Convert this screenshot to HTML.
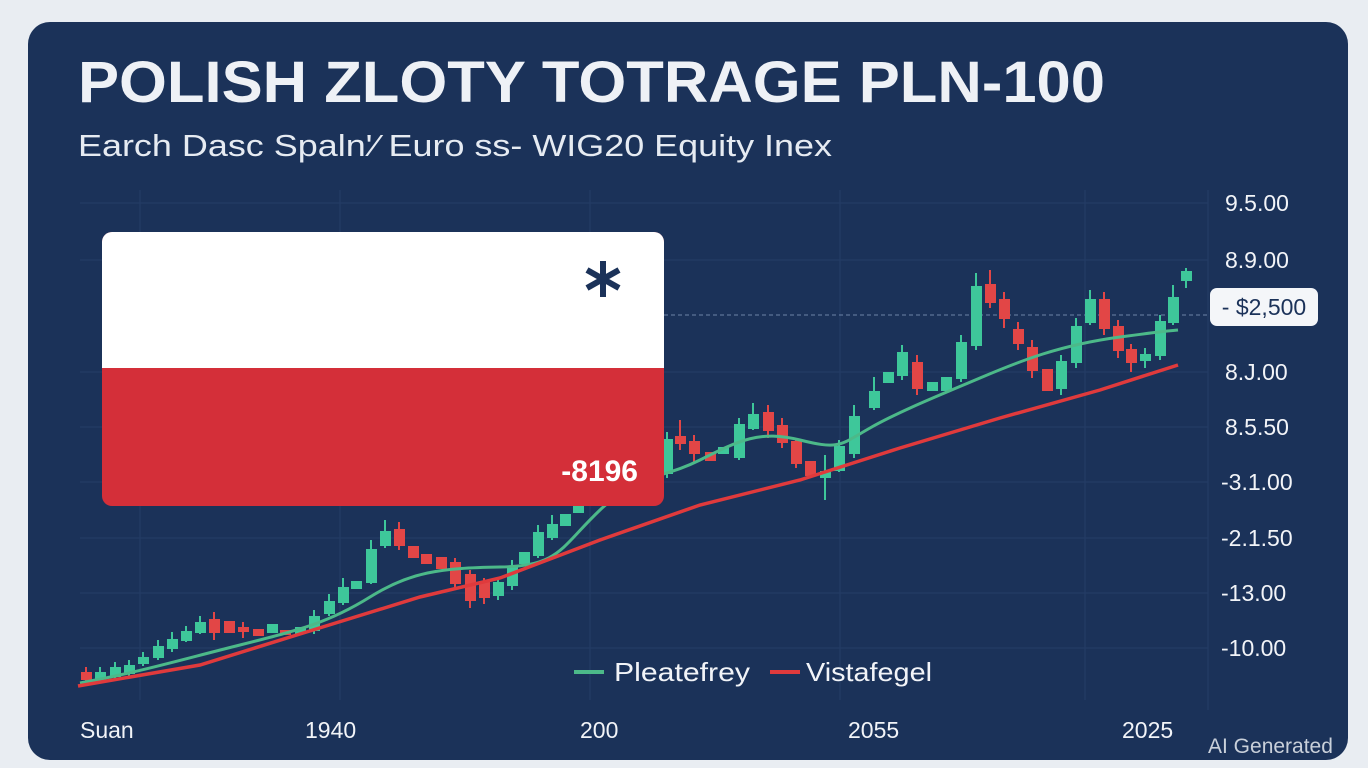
<!DOCTYPE html>
<html><head><meta charset="utf-8"><style>
html,body{margin:0;padding:0;background:#e9edf2;}
svg{display:block;font-family:"Liberation Sans",sans-serif;}
</style></head><body>
<svg width="1368" height="768" viewBox="0 0 1368 768" xmlns="http://www.w3.org/2000/svg">
<rect x="0" y="0" width="1368" height="768" fill="#e9edf2"/>
<rect x="28" y="22" width="1320" height="738" rx="22" fill="#1b3259"/>
<g stroke="#243d66" stroke-width="1">
<line x1="80" y1="648" x2="1208" y2="648"/><line x1="80" y1="593" x2="1208" y2="593"/>
<line x1="80" y1="538" x2="1208" y2="538"/><line x1="80" y1="482" x2="1208" y2="482"/>
<line x1="80" y1="427" x2="1208" y2="427"/><line x1="80" y1="372" x2="1208" y2="372"/>
<line x1="80" y1="260" x2="1208" y2="260"/><line x1="80" y1="203" x2="1208" y2="203"/>
<line x1="140" y1="190" x2="140" y2="700"/><line x1="340" y1="190" x2="340" y2="700"/>
<line x1="590" y1="190" x2="590" y2="700"/><line x1="840" y1="190" x2="840" y2="700"/>
<line x1="1085" y1="190" x2="1085" y2="700"/><line x1="1208" y1="190" x2="1208" y2="710"/>
</g>
<line x1="664" y1="315" x2="1210" y2="315" stroke="#6d84a8" stroke-width="1" stroke-dasharray="4 3"/>
<text x="78" y="102" font-size="58" font-weight="bold" fill="#eef1f6" textLength="1027" lengthAdjust="spacingAndGlyphs">POLISH ZLOTY TOTRAGE PLN-100</text>
<text x="78" y="156" font-size="31" fill="#e6ebf2" textLength="754" lengthAdjust="spacingAndGlyphs">Earch Dasc Spaln'⁄ Euro ss- WIG20 Equity Inex</text>
<g stroke-width="2">
<g fill="#3ec79a" stroke="#3ec79a">
<rect x="96" y="673" width="9" height="5"/><rect x="111" y="668" width="9" height="8"/><rect x="125" y="666" width="9" height="7"/>
<rect x="139" y="658" width="9" height="5"/><rect x="154" y="647" width="9" height="10"/><rect x="168" y="640" width="9" height="8"/>
<rect x="182" y="632" width="9" height="8"/><rect x="196" y="623" width="9" height="9"/><rect x="268" y="625" width="9" height="7"/>
<rect x="296" y="628" width="9" height="5"/><rect x="310" y="617" width="9" height="13"/><rect x="325" y="602" width="9" height="11"/>
<rect x="339" y="588" width="9" height="14"/><rect x="352" y="582" width="9" height="6"/><rect x="367" y="550" width="9" height="32"/>
<rect x="381" y="532" width="9" height="13"/><rect x="494" y="583" width="9" height="12"/><rect x="508" y="568" width="9" height="17"/>
<rect x="520" y="553" width="9" height="10"/><rect x="534" y="533" width="9" height="22"/><rect x="548" y="525" width="9" height="12"/>
<rect x="561" y="515" width="9" height="10"/><rect x="574" y="505" width="9" height="7"/>
<rect x="663" y="440" width="9" height="33"/><rect x="719" y="448" width="9" height="5"/><rect x="735" y="425" width="9" height="32"/>
<rect x="749" y="415" width="9" height="13"/><rect x="821" y="472" width="9" height="5"/><rect x="835" y="447" width="9" height="23"/>
<rect x="850" y="417" width="9" height="36"/><rect x="870" y="392" width="9" height="15"/><rect x="884" y="373" width="9" height="9"/>
<rect x="898" y="353" width="9" height="22"/><rect x="928" y="383" width="9" height="7"/><rect x="942" y="378" width="9" height="12"/>
<rect x="957" y="343" width="9" height="35"/><rect x="972" y="287" width="9" height="58"/><rect x="1057" y="362" width="9" height="26"/>
<rect x="1072" y="327" width="9" height="35"/><rect x="1086" y="300" width="9" height="22"/><rect x="1141" y="355" width="9" height="5"/>
<rect x="1156" y="322" width="9" height="33"/><rect x="1169" y="298" width="9" height="24"/><rect x="1182" y="272" width="9" height="8"/>
<path d="M100 667V681M115 662V680M129 660V676M143 652V666M158 640V660M172 632V652M186 626V642M200 616V634M314 610V634M329 594V616M343 578V605M371 540V584M385 520V548M498 578V600M512 560V590M538 525V558M552 515V540M667 432V478M739 418V460M753 403V430M825 455V500M839 440V472M854 405V458M874 377V410M902 345V380M961 335V382M976 273V350M1061 355V395M1076 318V368M1090 290V325M1145 348V368M1160 315V360M1173 285V325M1186 268V288"/>
</g>
<g fill="#e24646" stroke="#e24646">
<rect x="82" y="673" width="9" height="6"/><rect x="210" y="620" width="9" height="12"/><rect x="225" y="622" width="9" height="10"/>
<rect x="239" y="628" width="9" height="3"/><rect x="254" y="630" width="9" height="5"/><rect x="281" y="631" width="9" height="3"/>
<rect x="395" y="530" width="9" height="15"/><rect x="409" y="547" width="9" height="10"/><rect x="422" y="555" width="9" height="8"/>
<rect x="437" y="558" width="9" height="10"/><rect x="451" y="563" width="9" height="20"/><rect x="466" y="575" width="9" height="25"/>
<rect x="480" y="582" width="9" height="15"/>
<rect x="676" y="437" width="9" height="6"/><rect x="690" y="442" width="9" height="11"/><rect x="706" y="453" width="9" height="7"/>
<rect x="764" y="413" width="9" height="17"/><rect x="778" y="426" width="9" height="16"/><rect x="792" y="442" width="9" height="21"/>
<rect x="806" y="462" width="9" height="13"/><rect x="913" y="363" width="9" height="25"/><rect x="986" y="285" width="9" height="17"/>
<rect x="1000" y="300" width="9" height="18"/><rect x="1014" y="330" width="9" height="13"/><rect x="1028" y="348" width="9" height="22"/>
<rect x="1043" y="370" width="9" height="20"/><rect x="1100" y="300" width="9" height="28"/><rect x="1114" y="327" width="9" height="23"/>
<rect x="1127" y="350" width="9" height="12"/>
<path d="M86 667V681M214 612V640M243 622V638M399 522V550M455 558V590M470 570V608M484 578V604M680 420V450M694 435V462M768 405V438M782 418V448M796 438V468M917 355V395M990 270V308M1004 292V328M1018 322V350M1032 340V378M1104 292V335M1118 320V358M1131 344V372"/>
</g>
</g>
<path d="M80 683 C140 672 180 660 240 645 S330 622 370 597 S440 568 500 567 S560 548 600 510 S660 480 700 460 S760 430 800 440 S840 445 870 428 S940 395 980 378 S1060 345 1120 337 S1160 332 1178 330" fill="none" stroke="#4cb989" stroke-width="3"/>
<path d="M78 686 L200 665 L300 634 L420 597 L500 578 L600 540 L700 505 L800 480 L900 448 L1000 418 L1100 390 L1178 365" fill="none" stroke="#e03a3c" stroke-width="3.5"/>
<rect x="102" y="232" width="562" height="274" rx="10" fill="#d42f39"/>
<path d="M112 232 H654 A10 10 0 0 1 664 242 V368 H102 V242 A10 10 0 0 1 112 232Z" fill="#ffffff"/>
<g stroke="#1b3259" stroke-width="6" stroke-linecap="butt">
<line x1="603" y1="261" x2="603" y2="297"/>
<line x1="587" y1="270" x2="619" y2="288"/>
<line x1="587" y1="288" x2="619" y2="270"/>
</g>
<text x="638" y="481" font-size="30" font-weight="bold" fill="#ffffff" text-anchor="end">-8196</text>
<g font-size="23" fill="#f2f4f8">
<text x="1225" y="211">9.5.00</text><text x="1225" y="268">8.9.00</text>
<text x="1225" y="380">8.J.00</text><text x="1225" y="435">8.5.50</text>
<text x="1221" y="490">-3.1.00</text><text x="1221" y="546">-2.1.50</text>
<text x="1221" y="601">-13.00</text><text x="1221" y="656">-10.00</text>
</g>
<rect x="1210" y="288" width="108" height="38" rx="7" fill="#f4f6f9"/>
<text x="1264" y="315" font-size="23" fill="#1b3259" text-anchor="middle">- $2,500</text>
<line x1="574" y1="672" x2="604" y2="672" stroke="#4cb989" stroke-width="4"/>
<text x="614" y="681" font-size="26" fill="#f2f4f8" textLength="136" lengthAdjust="spacingAndGlyphs">Pleatefrey</text>
<line x1="770" y1="672" x2="800" y2="672" stroke="#e03a3c" stroke-width="4"/>
<text x="806" y="681" font-size="26" fill="#f2f4f8" textLength="126" lengthAdjust="spacingAndGlyphs">Vistafegel</text>
<g font-size="23" fill="#f2f4f8">
<text x="80" y="738">Suan</text><text x="305" y="738">1940</text><text x="580" y="738">200</text>
<text x="848" y="738">2055</text><text x="1122" y="738">2025</text>
</g>
<text x="1208" y="753" font-size="21" fill="#c9d0da">AI Generated</text>
</svg>
</body></html>
